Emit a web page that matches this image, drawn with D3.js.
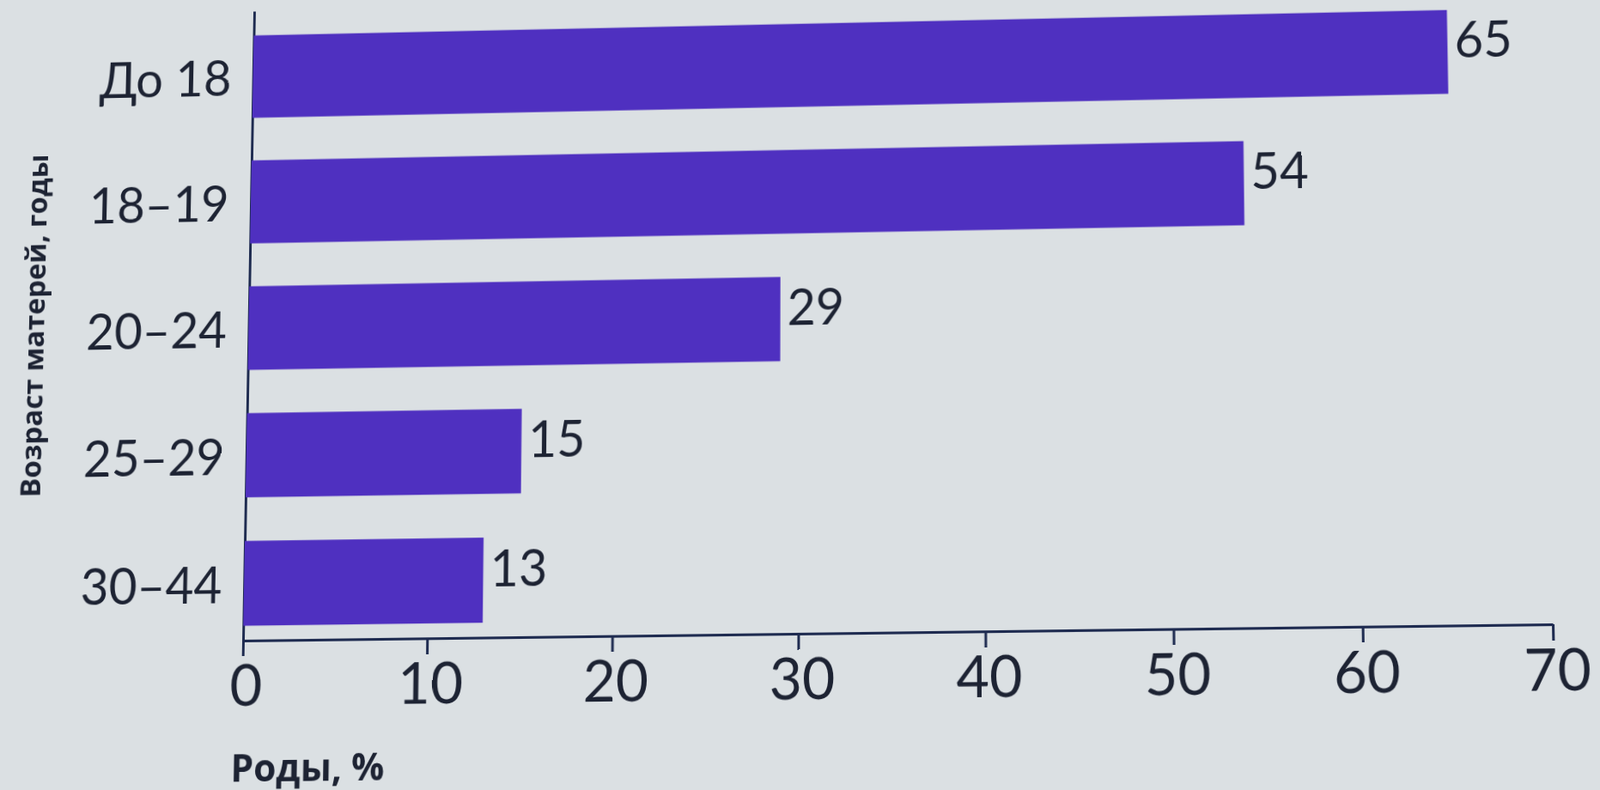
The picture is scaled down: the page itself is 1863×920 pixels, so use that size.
<!DOCTYPE html>
<html lang="ru">
<head>
<meta charset="UTF-8">
<title>Роды по возрасту матерей</title>
<script src="https://d3js.org/d3.v7.min.js"></script>
<style>
    html, body {
        margin: 0;
        padding: 0;
        background: #dbe0e3;
        overflow: hidden;
    }
    svg {
        display: block;
        transform-origin: 0 0;
    }
    .axis path,
    .axis line {
        fill: none;
        stroke: #1e2b50;
        stroke-width: 3px;
    }
    .axis text,
    .value-label {
        font-family: Lato, "Open Sans", sans-serif;
        fill: #1d2333;
    }
    .axis-title {
        font-family: "Open Sans", sans-serif;
        font-weight: 700;
        fill: #1d2333;
    }
</style>
</head>
<body>
<svg id="chart" width="1863" height="920"></svg>

<script>
    // data
    var ageGroups = ["До 18", "18–19", "20–24", "25–29", "30–44"];
    var birthShares = [65, 54, 29, 15, 13];
    var xTicks = [0, 10, 20, 30, 40, 50, 60, 70];
    var xTitle = "Роды, %";
    var yTitle = "Возраст матерей, годы";

    // plot area (flat, before the photo tilt is applied)
    var plot = {left: 285, right: 1805, top: 15, bottom: 745};

    var svg = d3.select("#chart");

    var x = d3.scaleLinear()
        .domain([0, 70])
        .range([plot.left, plot.right]);

    var y = d3.scaleBand()
        .domain(ageGroups)
        .range([plot.top, plot.bottom])
        .paddingInner(0.34)
        .paddingOuter(0.155)
        .align(0.63);

    // x axis
    var xAxis = svg.append("g")
        .attr("class", "axis")
        .attr("transform", "translate(0," + plot.bottom + ")")
        .call(d3.axisBottom(x).tickValues(xTicks).tickSize(18).tickSizeOuter(0));
    xAxis.selectAll("text")
        .style("font-size", "66px")
        .attr("y", 74)
        .attr("dy", 0)
        .attr("dx", 4);

    // y axis with the age groups
    var yAxis = svg.append("g")
        .attr("class", "axis")
        .attr("transform", "translate(" + plot.left + ",0)")
        .call(d3.axisLeft(y).tickSize(0).tickSizeOuter(0).tickPadding(26));
    yAxis.selectAll("text")
        .style("font-size", "58px")
        .attr("dy", 22);

    // bars
    svg.selectAll(".bar")
        .data(birthShares)
        .join("rect")
        .attr("class", "bar")
        .attr("x", x(0))
        .attr("y", function(d, i) { return y(ageGroups[i]); })
        .attr("width", function(d) { return x(d) - x(0); })
        .attr("height", y.bandwidth())
        .attr("fill", "#4f30c0");

    // value labels
    svg.selectAll(".value-label")
        .data(birthShares)
        .join("text")
        .attr("class", "value-label")
        .attr("x", function(d) { return x(d) + 8; })
        .attr("y", function(d, i) { return y(ageGroups[i]) + y.bandwidth() / 2 + 7; })
        .style("font-size", "58px")
        .text(function(d) { return d; });

    // axis titles
    svg.append("text")
        .attr("class", "axis-title")
        .attr("x", 273)
        .attr("y", 905)
        .style("font-size", "43px")
        .text(xTitle);

    svg.append("text")
        .attr("class", "axis-title")
        .attr("transform", "translate(40,378) rotate(-90)")
        .attr("text-anchor", "middle")
        .style("font-size", "33px")
        .text(yTitle);

    // the reference is a photo of a slide taken a little askew:
    // map the flat plot rectangle onto the quad seen in the photo
    function quadTransform(r, q) {
        var p0 = q[0], p1 = q[1], p2 = q[2], p3 = q[3];
        var dx1 = p1[0] - p2[0], dx2 = p3[0] - p2[0], dx3 = p0[0] - p1[0] + p2[0] - p3[0];
        var dy1 = p1[1] - p2[1], dy2 = p3[1] - p2[1], dy3 = p0[1] - p1[1] + p2[1] - p3[1];
        var den = dx1 * dy2 - dy1 * dx2;
        var g = (dx3 * dy2 - dy3 * dx2) / den,
            h = (dx1 * dy3 - dy1 * dx3) / den;
        var a = p1[0] - p0[0] + g * p1[0], b = p3[0] - p0[0] + h * p3[0], c = p0[0];
        var d = p1[1] - p0[1] + g * p1[1], e = p3[1] - p0[1] + h * p3[1], f = p0[1];
        var sx = 1 / (r.right - r.left), sy = 1 / (r.bottom - r.top);
        var A = a * sx, B = b * sy, C = c - A * r.left - B * r.top;
        var D = d * sx, E = e * sy, F = f - D * r.left - E * r.top;
        var G = g * sx, H = h * sy, I = 1 - G * r.left - H * r.top;
        return "matrix3d(" + [A, D, 0, G, B, E, 0, H, 0, 0, 1, 0, C, F, 0, I].join(",") + ")";
    }

    svg.style("transform", quadTransform(plot, [[296, 13], [1793, -19.5], [1808, 727], [283, 746]]));
</script>
</body>
</html>
